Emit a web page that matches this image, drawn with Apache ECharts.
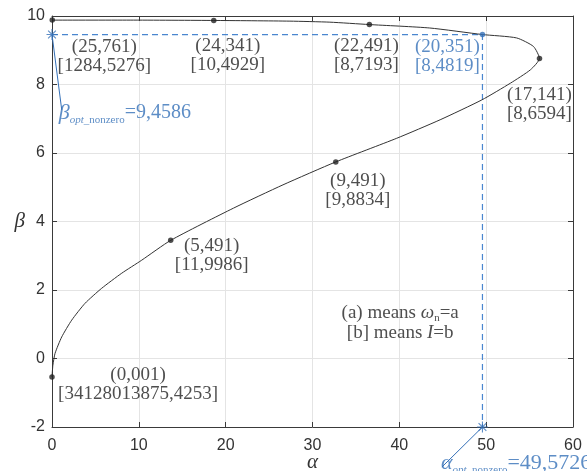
<!DOCTYPE html>
<html>
<head>
<meta charset="utf-8">
<script src="https://cdn.jsdelivr.net/npm/echarts@6/dist/echarts.min.js"></script>
<style>html,body{margin:0;padding:0;background:#fff}#c{width:587px;height:471px}</style>
</head>
<body>
<div id="c"></div>
<script>
// ---- data ----
const tickX = [0, 10, 20, 30, 40, 50, 60];
const tickY = [-2, 0, 2, 4, 6, 8, 10];
const curveAlpha = [0, 0.1, 0.35, 1.12, 2.27, 3.8, 5.72, 8.03, 10.33, 13.67, 20.9, 26.6, 32.68, 39.7, 44.7, 49.5, 52.8, 55.1, 56.14, 55.45, 53.5, 49.57, 43.5, 36.55, 32.0, 27.4, 18.63, 9.0, 0.03];
const curveBeta  = [-0.54, -0.2, 0.15, 0.63, 1.12, 1.61, 2.05, 2.49, 2.87, 3.45, 4.39, 5.07, 5.74, 6.43, 6.97, 7.55, 8.04, 8.43, 8.76, 9.11, 9.36, 9.4586, 9.65, 9.75, 9.82, 9.85, 9.87, 9.88, 9.88];
const pointAlpha = [0.03, 18.63, 36.55, 49.5726, 56.14, 32.68, 13.67, 0];
const pointBeta  = [9.88, 9.87, 9.75, 9.4586, 8.76, 5.74, 3.45, -0.54];
const pointOmega = ['25,761', '24,341', '22,491', '20,351', '17,141', '9,491', '5,491', '0,001'];
const pointI     = ['1284,5276', '10,4929', '8,7193', '8,4819', '8,6594', '9,8834', '11,9986', '34128013875,4253'];
const optAlpha = 49.5726;
const optBeta = 9.4586;
const optAlphaText = '49,5726';
const optBetaText = '9,4586';
const highlightIndex = 3;

// ---- layout (pixel offsets for labels, annotation anchors) ----
const labelOffsets = [[52, 36], [14, 35], [-3, 31], [-35, 22], [0, 46], [22, 29], [41, 15], [86, 8]];
const betaNoteEnd = [1.12, 7.26];
const alphaNoteEnd = [44.9, -3.17];
const legendAnchor = [40.1, 1.03];

const BLUE = '#3470b8';
const BLUE_LINE = '#4a86cf';
const SERIF = '"Liberation Serif", "Times New Roman", serif';
const SANS = '"Liberation Sans", Arial, sans-serif';
const STAR = 'path://M-10,-1L10,-1L10,1L-10,1Z M1,-10L1,10L-1,10L-1,-10Z M-6.36,-7.78L7.78,6.36L6.36,7.78L-7.78,-6.36Z M7.78,-6.36L-6.36,7.78L-7.78,6.36L6.36,-7.78Z';

const curveData = curveAlpha.map((a, i) => [a, curveBeta[i]]);
const pointData = pointAlpha.map((a, i) => ({
  value: [a, pointBeta[i]],
  itemStyle: { color: i === highlightIndex ? BLUE : '#222' },
  label: {
    show: true,
    position: 'inside',
    offset: labelOffsets[i],
    formatter: '(' + pointOmega[i] + ')\n[' + pointI[i] + ']',
    color: i === highlightIndex ? BLUE : '#222',
    fontFamily: SERIF,
    fontSize: 19,
    lineHeight: 19,
    align: 'center'
  }
}));

const makeRich = (big) => ({
  g: { fontFamily: SERIF, fontStyle: 'italic', fontSize: 22, color: BLUE, lineHeight: 26, verticalAlign: 'middle' },
  s: { fontFamily: SERIF, fontStyle: 'italic', fontSize: 11, color: BLUE, lineHeight: 26, verticalAlign: 'bottom' },
  n: { fontFamily: SERIF, fontSize: 11, color: BLUE, lineHeight: 26, verticalAlign: 'bottom' },
  v: { fontFamily: SERIF, fontSize: big, color: BLUE, lineHeight: 26, verticalAlign: 'middle' }
});

const chart = echarts.init(document.getElementById('c'), null, { renderer: 'canvas' });
const axisCommon = {
  type: 'value',
  axisLine: { show: true, onZero: false, lineStyle: { color: '#3a3a3a', width: 1 } },
  axisTick: { show: true, inside: true, length: 5, lineStyle: { color: '#3a3a3a' } },
  splitLine: { show: true, lineStyle: { color: '#e4e4e4', width: 1 } },
  axisLabel: { color: '#333', fontFamily: SANS, fontSize: 16 }
};
chart.setOption({
  animation: false,
  backgroundColor: '#fff',
  grid: { left: 52, top: 16, right: 14, bottom: 44, containLabel: false, outerBoundsMode: 'none' },
  xAxis: [
    Object.assign({}, axisCommon, {
      min: tickX[0], max: tickX[tickX.length - 1], interval: tickX[1] - tickX[0],
      name: 'α', nameLocation: 'middle', nameGap: 25, nameMoveOverlap: false,
      nameTextStyle: { fontFamily: SERIF, fontStyle: 'italic', fontSize: 21, color: '#333' },
      axisLabel: Object.assign({}, axisCommon.axisLabel, { margin: 11 })
    }),
    Object.assign({}, axisCommon, {
      position: 'top', min: tickX[0], max: tickX[tickX.length - 1], interval: tickX[1] - tickX[0],
      axisLabel: { show: false }, splitLine: { show: false }
    })
  ],
  yAxis: [
    Object.assign({}, axisCommon, {
      min: tickY[0], max: tickY[tickY.length - 1], interval: tickY[1] - tickY[0],
      name: 'β', nameLocation: 'middle', nameGap: 27, nameRotate: 0, nameMoveOverlap: false,
      nameTextStyle: { fontFamily: SERIF, fontStyle: 'italic', fontSize: 21, color: '#333' },
      axisLabel: Object.assign({}, axisCommon.axisLabel, { margin: 7 })
    }),
    Object.assign({}, axisCommon, {
      position: 'right', min: tickY[0], max: tickY[tickY.length - 1], interval: tickY[1] - tickY[0],
      axisLabel: { show: false }, splitLine: { show: false }
    })
  ],
  series: [
    {
      type: 'line', data: [[0, optBeta], [optAlpha, optBeta], [optAlpha, tickY[0]]],
      showSymbol: false, symbol: 'none',
      lineStyle: { color: BLUE_LINE, width: 1.2, type: [6, 4] }, z: 2
    },
    {
      type: 'line', data: curveData, smooth: 0.2, showSymbol: false, symbol: 'none',
      lineStyle: { color: '#333', width: 1 }, z: 3
    },
    {
      type: 'scatter', data: pointData, symbol: 'circle', symbolSize: 5.5, z: 5
    },
    {
      type: 'line', data: [[0, optBeta], betaNoteEnd], showSymbol: false, symbol: 'none',
      lineStyle: { color: BLUE, width: 1 }, clip: false, z: 4
    },
    {
      type: 'line', data: [[optAlpha, tickY[0]], alphaNoteEnd], showSymbol: false, symbol: 'none',
      lineStyle: { color: BLUE, width: 1 }, clip: false, z: 4
    },
    {
      type: 'scatter', symbol: STAR, symbolSize: 11, clip: false, z: 6,
      itemStyle: { color: BLUE },
      data: [[0, optBeta], [optAlpha, tickY[0]]]
    },
    {
      type: 'scatter', symbolSize: 0, clip: false, z: 7,
      data: [
        { value: betaNoteEnd, label: { show: true, position: 'inside', align: 'left', offset: [-3, 3],
          formatter: '{g|β}{s|opt}{n|_nonzero}{v|=' + optBetaText + '}', rich: makeRich(20) } },
        { value: alphaNoteEnd, label: { show: true, position: 'inside', align: 'left', offset: [-1, -4],
          formatter: '{g|α}{s|opt}{n|_nonzero}{v|=' + optAlphaText + '}', rich: makeRich(22) } },
        { value: legendAnchor, label: { show: true, position: 'inside', align: 'center',
          formatter: '(a) means {w|ω}{sub|n}=a\n[b] means {i|I}=b',
          fontFamily: SERIF, fontSize: 19, color: '#222', lineHeight: 20,
          rich: {
            w: { fontFamily: SERIF, fontStyle: 'italic', fontSize: 19, color: '#222', lineHeight: 20 },
            sub: { fontFamily: SERIF, fontSize: 11, color: '#222', lineHeight: 20, verticalAlign: 'bottom' },
            i: { fontFamily: SERIF, fontStyle: 'italic', fontSize: 19, color: '#222', lineHeight: 20 }
          } } }
      ]
    }
  ]
});
</script>
</body>
</html>
